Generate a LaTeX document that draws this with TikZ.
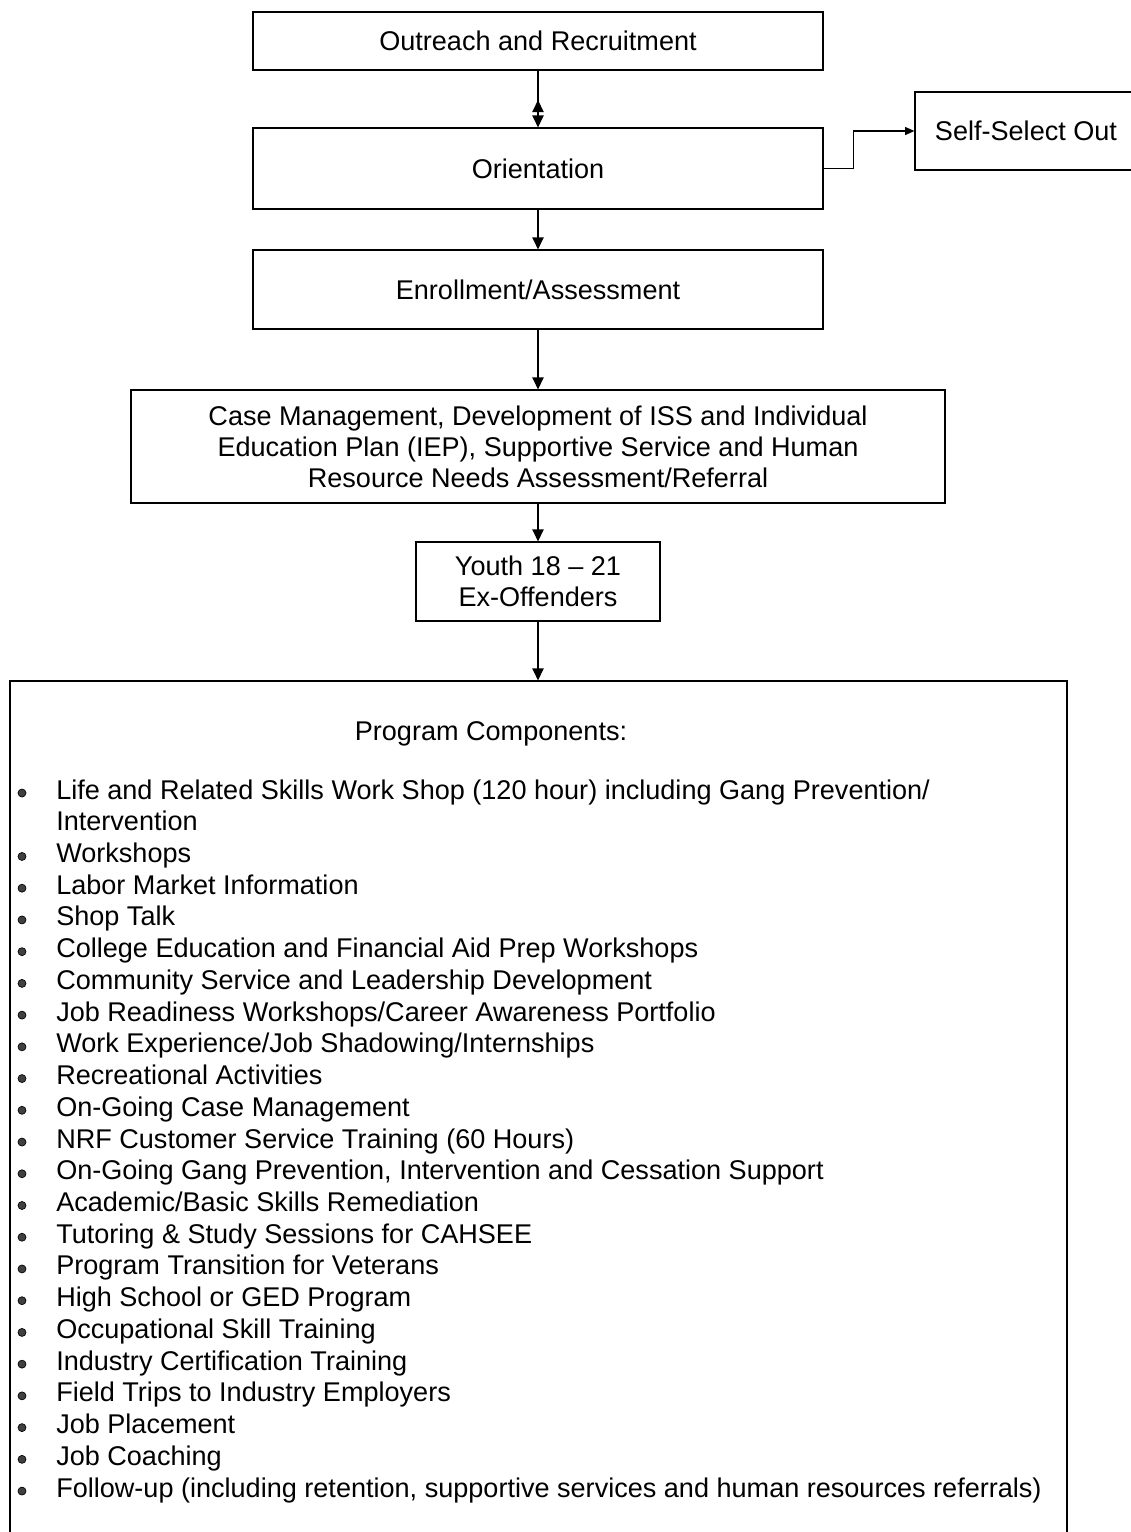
\documentclass[tikz,border=0pt]{standalone}
\usepackage{fontspec}
\setmainfont{Liberation Sans}
\usetikzlibrary{arrows.meta}
\newcommand\fsz{\fontsize{20.3pt}{23.3pt}\selectfont}
\tikzset{
  wh/.style 2 args={minimum width=#1*0.75pt, minimum height=#2*0.75pt},
  box/.style={draw, line width=0.9pt, inner sep=0pt, align=center, font=\fsz},
  arr/.style={line width=0.9pt, -{Triangle[length=9pt,width=8.5pt]}},
  arrs/.style={line width=0.9pt, -{Triangle[length=7pt,width=6pt]}},
  itm/.style={anchor=base west, inner sep=0pt, font=\fsz},
  bul/.style={circle, draw=black, fill=black!75, line width=0.5pt, inner sep=0pt, minimum size=6pt},
}
\begin{document}
\begin{tikzpicture}[x=0.75pt,y=-0.75pt]
\path[use as bounding box] (0,0) rectangle (1131,1532);
\clip (0,0) rectangle (1131,1532);

\node[box, wh={570}{58}] (out) at (538,41) {Outreach and Recruitment};
\node[box, wh={570}{81}] (ori) at (538,168.5) {Orientation};
\node[box, wh={570}{79}] (enr) at (538,289.5) {Enrollment/Assessment};
\node[box, wh={814}{113}] (cas) at (538,446.5) {Case Management, Development of ISS and Individual\\Education Plan (IEP), Supportive Service and Human\\Resource Needs Assessment/Referral};
\node[box, wh={244}{79}] (you) at (538,581.5) {Youth 18 -- 21\\Ex-Offenders};
\node[box, wh={222}{78}] (sso) at (1026,131) {Self-Select Out};
\node[draw, line width=0.9pt, inner sep=0pt, wh={1057}{869}] (comp) at (538.5,1115.5) {};

\draw[arr] (out.south) -- (ori.north);
\draw[arr] ([yshift=9pt]ori.north) -- ([yshift=20.5pt]ori.north);
\draw[arr] (ori.south) -- (enr.north);
\draw[arr] (enr.south) -- (cas.north);
\draw[arr] (cas.south) -- (you.north);
\draw[arr] (you.south) -- (comp.north -| you.south);
\draw[arrs] (ori.east) -- ++(30,0) |- (sso.west);

\node[itm, anchor=base] (pc) at (491,740) {Program Components:};

\node[itm] (it0) at (56,799) {Life and Related Skills Work Shop (120 hour) including Gang Prevention/};
\node[itm] (it1) at (56,{799+31.73}) {Intervention};
\node[bul] (b0) at (22,793) {};
\foreach \t [count=\i from 2] in {Workshops, Labor Market Information, Shop Talk,
  College Education and Financial Aid Prep Workshops,
  Community Service and Leadership Development,
  Job Readiness Workshops/Career Awareness Portfolio,
  Work Experience/Job Shadowing/Internships,
  Recreational Activities, On-Going Case Management,
  NRF Customer Service Training (60 Hours),
  {On-Going Gang Prevention, Intervention and Cessation Support},
  Academic/Basic Skills Remediation,
  Tutoring \& Study Sessions for CAHSEE,
  Program Transition for Veterans,
  High School or GED Program,
  Occupational Skill Training,
  Industry Certification Training,
  Field Trips to Industry Employers,
  Job Placement, Job Coaching,
  {Follow-up (including retention, supportive services and human resources referrals)}} {
  \node[itm] (it\i) at (56,{799+31.73*\i}) {\t};
  \node[bul] (b\i) at (22,{793+31.73*\i}) {};
}
\end{tikzpicture}
\end{document}
